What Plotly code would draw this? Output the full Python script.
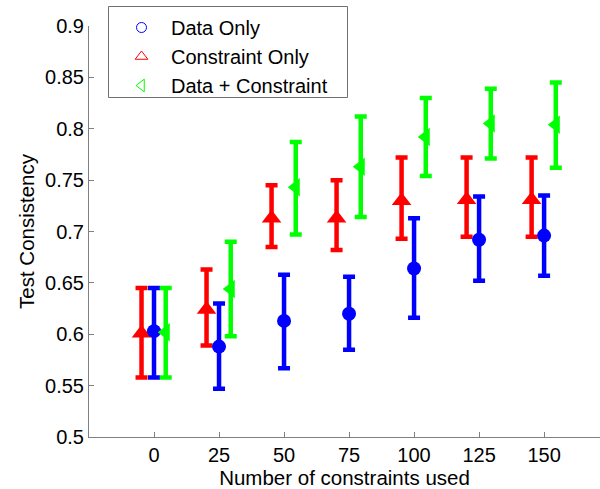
import plotly.graph_objects as go

constraints = [0, 25, 50, 75, 100, 125, 150]
x_ticklabels = ["0", "25", "50", "75", "100", "125", "150"]

data_only_mean = [0.603, 0.588, 0.613, 0.620, 0.664, 0.692, 0.696]
data_only_hi = [0.645, 0.630, 0.658, 0.656, 0.713, 0.734, 0.735]
data_only_lo = [0.558, 0.547, 0.567, 0.585, 0.616, 0.652, 0.657]

constraint_only_mean = [0.601, 0.624, 0.713, 0.713, 0.730, 0.731, 0.731]
constraint_only_hi = [0.645, 0.663, 0.745, 0.750, 0.772, 0.772, 0.772]
constraint_only_lo = [0.558, 0.589, 0.685, 0.682, 0.693, 0.695, 0.695]

both_mean = [0.602, 0.644, 0.743, 0.763, 0.792, 0.805, 0.804]
both_hi = [0.645, 0.690, 0.787, 0.812, 0.830, 0.839, 0.845]
both_lo = [0.558, 0.598, 0.697, 0.714, 0.754, 0.771, 0.762]

y_ticks = [0.5, 0.55, 0.6, 0.65, 0.7, 0.75, 0.8, 0.85, 0.9]
y_ticklabels = ["0.5", "0.55", "0.6", "0.65", "0.7", "0.75", "0.8", "0.85", "0.9"]

FONT = "Liberation Sans, Arial, sans-serif"
FS = 20.5
FS_TICK = 20
FS_LEG = 20
BLUE, RED, GREEN = "#0000FF", "#FF0000", "#00FF00"

W, H = 600, 489
ML, MR, MT, MB = 89, 0, 26, 52
PW, PH = W - ML - MR, H - MT - MB

fig = go.Figure()


def add_series(name, mean, hi, lo, offset, color, symbol, size, leg_symbol, leg_size):
    xs = [c + offset for c in constraints]
    fig.add_trace(go.Scatter(
        x=xs, y=mean, mode="markers", showlegend=False, name=name,
        marker=dict(symbol=symbol, size=size, color=color, line=dict(width=0)),
        error_y=dict(type="data", symmetric=False,
                     array=[h - m for h, m in zip(hi, mean)],
                     arrayminus=[m - l for m, l in zip(mean, lo)],
                     color=color, thickness=4.5, width=6),
    ))
    return dict(name=name, color=color, symbol=leg_symbol, size=leg_size)


legs = []
legs.append(add_series("Constraint Only", constraint_only_mean, constraint_only_hi, constraint_only_lo,
                       -4.8, RED, "triangle-up", 17, "triangle-up-open", 11))
legs.append(add_series("Data Only", data_only_mean, data_only_hi, data_only_lo,
                       0, BLUE, "circle", 14, "circle-open", 10))
legs.append(add_series("Data + Constraint", both_mean, both_hi, both_lo,
                       4.5, GREEN, "triangle-left", 16, "triangle-left-open", 11))

order = ["Data Only", "Constraint Only", "Data + Constraint"]
for nm in order:
    d = next(l for l in legs if l["name"] == nm)
    fig.add_trace(go.Scatter(
        x=[None], y=[None], mode="markers", name=nm, showlegend=True,
        marker=dict(symbol=d["symbol"], size=d["size"], color=d["color"], line=dict(width=1, color=d["color"])),
    ))

axis_common = dict(showline=True, linecolor="#808080", linewidth=1, ticks="inside", ticklen=5,
                   tickcolor="#808080", showgrid=False, zeroline=False, automargin=False,
                   tickfont=dict(family=FONT, size=FS_TICK, color="black"))


def px_x(p):
    return (p - ML) / PW


def px_y(p):
    return (H - MB - p) / PH


fig.update_layout(
    width=W, height=H,
    margin=dict(l=ML, r=MR, t=MT, b=MB),
    paper_bgcolor="white", plot_bgcolor="white",
    font=dict(family=FONT, size=FS, color="black"),
    xaxis=dict(range=[-25, 171.5], tickvals=constraints, ticktext=x_ticklabels,
               title=dict(text="Number of constraints used", font=dict(family=FONT, size=FS), standoff=2),
               **axis_common),
    yaxis=dict(range=[0.5, 0.9], tickvals=y_ticks, ticktext=y_ticklabels,
               title=dict(text="Test Consistency", font=dict(family=FONT, size=FS), standoff=4),
               **axis_common),
    legend=dict(x=px_x(112), y=px_y(8), xanchor="left", yanchor="top", borderwidth=0,
                tracegroupgap=0, bgcolor="rgba(0,0,0,0)", itemwidth=49, font=dict(family=FONT, size=FS_LEG)),
    shapes=[dict(type="rect", xref="paper", yref="paper",
                 x0=px_x(108.5), x1=px_x(347.5), y0=px_y(97.5), y1=px_y(6.5),
                 line=dict(color="#707070", width=1), fillcolor="rgba(0,0,0,0)", layer="above")],
    showlegend=True,
)

fig.write_html("out.html", config={"displayModeBar": False},
               post_script="document.body.style.margin='0';document.body.style.overflow='hidden';")
